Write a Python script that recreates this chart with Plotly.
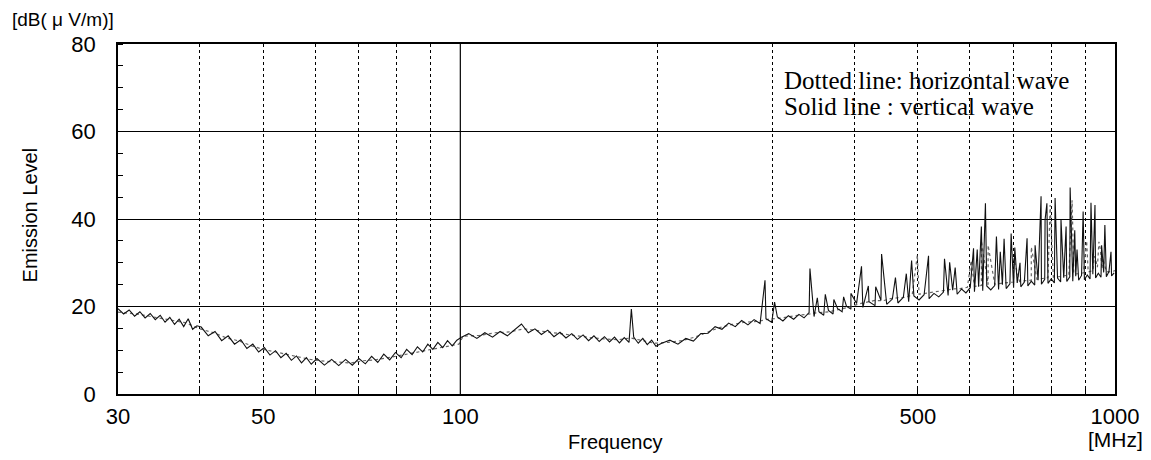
import plotly.graph_objects as go

# ---------------- data ----------------
# Solid line: vertical wave - receiver sweep points (MHz) and levels (dBuV/m)
freq_v = [
    30, 30.6, 31.2, 31.8, 32.4, 33, 33.6, 34.2, 34.8, 35.4, 36, 36.6, 37.2, 37.8, 38.4, 39, 39.6,
    40.2, 41.2, 42.2, 43.2, 44.2, 45.2, 46.2, 47.2, 48.2, 49.2, 50.2, 51.2, 52.2, 53.2, 54.2,
    55.2, 56.2, 57.2, 58.2, 59.2,
    60.4, 62, 63.6, 65.2, 66.8, 68.4, 70, 71.6, 73.2, 74.8, 76.4, 78, 79.6, 81.2, 82.8, 84.4,
    86, 87.6, 89.2, 90.8, 92.4, 94, 95.6, 97.2, 98.8,
    100.4, 103, 106, 109, 112, 115, 118, 121, 124, 127, 130, 133, 136, 139, 142, 145, 148,
    151, 154, 157, 160, 163, 166, 169, 172, 175, 178, 181, 184, 187, 190, 193, 196, 199,
    203, 209, 215, 221, 227, 233, 239, 245, 251, 257, 263, 269, 275, 281, 287, 293, 299,
    305, 311, 317, 323, 329, 335, 341, 347, 353, 359, 365, 371, 377, 383, 389, 395,
    403, 412, 421, 430, 439, 448, 457, 466, 475, 484, 493, 502, 511, 520, 529, 538, 547,
    556, 565, 574, 583, 592, 601, 610, 619, 628, 637, 646, 655, 664, 673, 682, 691, 700,
    709, 718, 727, 736, 745, 754, 763, 772, 781, 790, 799, 808, 817, 826, 835, 844, 853,
    862, 871, 880, 889, 898, 907, 916, 925, 934, 943, 952, 961, 970, 979, 988, 997,
]
level_v = [
    19.5, 18.3, 19.2, 17.8, 18.8, 17.4, 18.4, 17.0, 18.0, 16.4, 17.5, 15.9, 17.1, 15.4, 17.2, 14.8, 15.6,
    15.3, 13.3, 14.3, 12.2, 13.3, 11.4, 12.4, 10.4, 11.4, 9.6, 10.6, 8.9, 9.9, 8.3, 9.3,
    7.7, 8.7, 7.1, 8.3, 6.8,
    8.1, 6.6, 7.9, 6.5, 7.9, 6.6, 8.1, 6.9, 8.6, 7.2, 9.1, 7.8, 9.5, 8.3, 10.2, 9.0,
    10.8, 9.6, 11.4, 10.2, 11.8, 10.6, 12.2, 11.0, 12.3,
    13.0, 13.8, 12.7, 14.0, 13.0, 14.3, 13.3, 14.6, 16.0, 14.0, 14.9, 13.6, 14.6, 13.1, 14.1, 12.8, 13.8,
    12.5, 13.5, 12.2, 13.3, 12.0, 13.1, 11.9, 13.0, 11.7, 12.9, 11.8, 13.0, 11.6, 12.7, 11.3, 12.3, 10.9,
    11.6, 12.3, 11.4, 12.7, 12.1, 13.8, 13.9, 15.4, 14.8, 16.2, 15.4, 16.8, 15.8, 17.0, 16.1, 17.2, 16.4,
    17.6, 16.7, 17.9, 17.1, 18.2, 17.4, 18.6, 17.7, 18.8, 18.0, 19.1, 18.3, 19.5, 18.8, 20.0, 19.4,
    20.7, 19.8, 21.1, 20.2, 21.4, 20.5, 21.7, 20.8, 22.1, 21.1, 22.4, 21.5, 22.7, 21.8, 23.0, 22.2, 23.3,
    22.5, 23.7, 22.8, 24.0, 23.1, 24.3, 23.4, 24.5, 23.6, 24.7, 23.8, 24.8, 23.9, 25.0, 24.1, 25.2, 24.3,
    25.4, 24.5, 25.6, 24.7, 25.8, 24.9, 26.0, 25.1, 26.2, 25.3, 26.3, 25.4, 26.5, 25.6, 26.6, 25.7, 26.8,
    25.8, 26.9, 26.0, 27.1, 26.1, 27.2, 26.3, 27.4, 26.5, 27.6, 26.7, 27.8, 26.8, 28.0, 27.0, 27.7,
]
# narrow emission peaks on the vertical wave
spike_freq_v = [182.5, 292, 302, 342, 351, 361, 372, 385, 395, 410, 420, 431, 440, 462, 480, 489,
                519, 549, 559, 570, 608, 616, 625, 634, 659, 668, 677, 694, 703, 716, 734, 755,
                771, 782, 787, 810, 827, 842, 854, 868, 875, 894, 919, 932, 954, 965, 986]
spike_level_v = [19.4, 26.0, 21.0, 28.7, 22.0, 22.8, 21.6, 22.2, 23.0, 29.2, 24.7, 24.5, 32.0, 26.6,
                 27.5, 30.5, 31.6, 30.9, 30.1, 28.9, 33.3, 33.0, 38.3, 43.6, 36.0, 32.5, 35.5, 36.7,
                 33.5, 30.0, 35.6, 34.0, 45.2, 39.8, 43.6, 44.8, 39.8, 38.3, 47.2, 37.4, 33.0, 41.7,
                 43.7, 43.2, 34.0, 38.6, 32.5]

# Dotted line: horizontal wave
freq_h = [
    30, 32, 34, 36, 38, 40, 42, 44, 46, 48, 50, 53, 56, 59, 62, 65, 68, 71, 74, 77, 80, 84, 88, 92, 96, 99.5,
    101, 107, 113, 119, 125, 131, 137, 143, 150, 158, 166, 174, 182, 190, 198, 208, 218, 228, 238, 248,
    260, 272, 284, 296, 310, 324, 338, 352, 366, 380, 394,
    406, 418, 430, 442, 454, 466, 478, 490, 502, 514, 526, 538, 550, 565, 580, 595, 610, 625, 640, 655,
    670, 685, 700, 715, 730, 745, 760, 775, 790, 805, 820, 835, 850, 865, 880, 895, 910, 925, 940, 955,
    970, 985, 1000,
]
level_h = [
    18.7, 18.3, 17.6, 16.9, 16.3, 14.9, 14.0, 12.8, 12.1, 11.0, 10.2, 9.4, 8.6, 7.9, 7.5, 7.3, 7.1, 7.6,
    7.8, 8.2, 8.7, 9.2, 9.9, 10.5, 11.0, 11.4,
    13.2, 13.4, 14.0, 14.2, 14.9, 14.5, 14.0, 13.8, 13.3, 12.9, 12.6, 12.4, 12.8, 12.2, 11.6, 11.8, 12.2,
    13.0, 14.0, 15.1, 15.9, 16.4, 16.6, 17.1, 17.4, 17.9, 18.2, 18.6, 18.8, 19.4, 19.9,
    20.6, 21.0, 21.4, 21.3, 21.8, 22.0, 22.1, 22.6, 22.8, 23.0, 23.2, 23.5, 23.7, 24.0, 24.1, 24.4, 24.6,
    24.8, 25.0, 25.1, 25.3, 25.4, 25.6, 25.7, 25.9, 26.0, 26.2, 26.4, 26.6, 26.7, 26.8, 27.0, 27.2, 27.4,
    27.5, 27.7, 27.9, 28.2, 29.0, 28.6, 28.0, 27.9, 28.2,
]
spike_freq_h = [499, 603, 625, 640, 700, 745, 796, 860, 905, 930, 935, 945, 950, 958]
spike_level_h = [31.8, 30.5, 35.0, 34.0, 31.0, 33.6, 43.2, 44.3, 35.0, 31.5, 30.5, 34.8, 33.0, 31.0]

# axis labelling
x_tick_vals = [30, 50, 100, 500, 1000]
x_tick_text = ["30", "50", "100", "500", "1000"]
x_dashed_grid = [40, 50, 60, 70, 80, 90, 200, 300, 400, 500, 600, 700, 800, 900]
x_solid_grid = [100]
y_tick_vals = [0, 20, 40, 60, 80]


def merged(freqs, levels, sfreqs, slevels):
    pts = sorted(list(zip(freqs, levels)) + list(zip(sfreqs, slevels)), key=lambda p: p[0])
    return [p[0] for p in pts], [p[1] for p in pts]


xv, yv = merged(freq_v, level_v, spike_freq_v, spike_level_v)
xh, yh = merged(freq_h, level_h, spike_freq_h, spike_level_h)

fig = go.Figure()
fig.add_trace(go.Scatter(x=xh, y=yh, mode="lines", name="horizontal",
                         line=dict(color="#666666", width=1.2, dash="dot")))
fig.add_trace(go.Scatter(x=xv, y=yv, mode="lines", name="vertical",
                         line=dict(color="#111111", width=1.1)))

for xs in x_solid_grid:
    fig.add_shape(type="line", xref="x", yref="paper", x0=xs, x1=xs, y0=0, y1=1,
                  line=dict(color="black", width=1.2))

tick_font = dict(family="Liberation Sans, Arial, sans-serif", size=22, color="black")

fig.update_xaxes(
    type="log", range=[1.4771213, 3.0], automargin=False,
    tickvals=x_tick_vals, ticktext=x_tick_text, ticks="", showgrid=False,
    tickfont=tick_font, ticklabelstandoff=2,
    showline=True, linecolor="black", linewidth=1.6, mirror=True, zeroline=False,
    minor=dict(tickvals=x_dashed_grid, ticks="inside", ticklen=7, tickcolor="black",
               showgrid=True, gridcolor="black", gridwidth=1, griddash="3px,3px"),
)
fig.update_yaxes(
    range=[0, 80], tickvals=y_tick_vals, ticks="", tickfont=tick_font, ticklabelstandoff=16,
    automargin=False,
    showgrid=True, gridcolor="black", gridwidth=1.2, zeroline=False,
    showline=True, linecolor="black", linewidth=1.6, mirror=True,
    minor=dict(dtick=5, ticks="inside", ticklen=5, tickcolor="black", showgrid=False),
)

label_font = dict(family="Liberation Sans, Arial, sans-serif", size=20, color="black")
serif_font = dict(family="Liberation Serif, Times New Roman, serif", size=25, color="black")

fig.add_annotation(text="Frequency", xref="paper", yref="paper", x=0.4985, y=-0.137,
                   showarrow=False, font=label_font, xanchor="center", yanchor="middle")
fig.add_annotation(text="[MHz]", xref="paper", yref="paper", x=1.001, y=-0.129,
                   showarrow=False, font=dict(label_font, size=21), xanchor="center", yanchor="middle")
fig.add_annotation(text="Emission Level", xref="paper", yref="paper", x=-0.088, y=0.511,
                   showarrow=False, font=label_font, textangle=-90,
                   xanchor="center", yanchor="middle")
fig.add_annotation(text="[dB( μ V/m)]", xref="paper", yref="paper", x=-0.108, y=1.0686,
                   showarrow=False, font=dict(label_font, size=19), xanchor="left", yanchor="middle")
fig.add_annotation(text="Dotted line: horizontal wave", xref="paper", yref="paper",
                   x=0.666, y=0.895, showarrow=False, font=serif_font,
                   xanchor="left", yanchor="middle")
fig.add_annotation(text="Solid line : vertical wave", xref="paper", yref="paper",
                   x=0.666, y=0.822, showarrow=False, font=serif_font,
                   xanchor="left", yanchor="middle")

# page body adds an 8 px offset, so the figure is sized to the visible area
fig.update_layout(
    width=1143, height=452,
    margin=dict(l=110, r=36, t=36, b=66),
    paper_bgcolor="white", plot_bgcolor="white",
    showlegend=False,
)

fig.write_html("out.html")
